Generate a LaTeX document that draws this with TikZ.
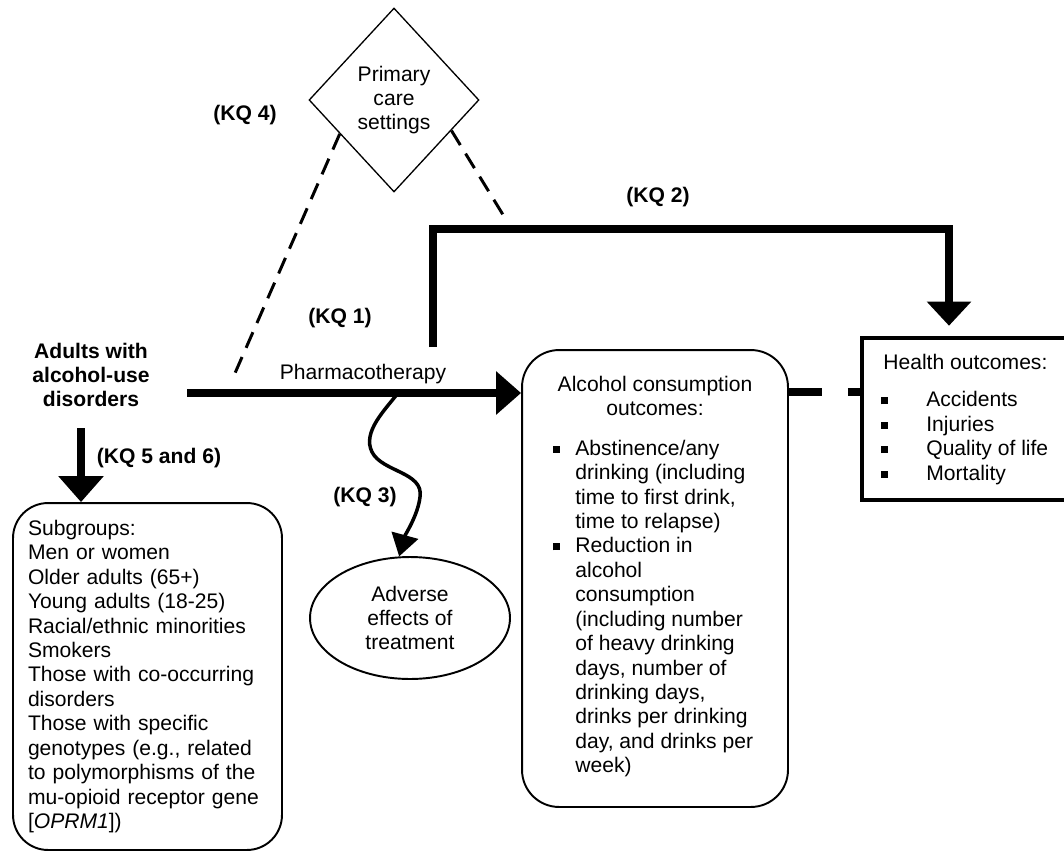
\documentclass[tikz,border=0pt]{standalone}
\usepackage{fontspec}
\setmainfont{Liberation Sans}
\usetikzlibrary{shapes.geometric,arrows.meta}

% small square bullet hanging left of the line
\newcommand{\sqbul}[1][9pt]{\llap{\rule[1.4pt]{4pt}{4pt}\hspace{#1}}}

\tikzset{
  txt/.style      = {inner sep=0pt, align=center, font=\fontsize{12}{13.9}\selectfont},
  kqlabel/.style  = {txt, font=\fontsize{12}{13.9}\selectfont\bfseries},
  rbox/.style     = {txt, draw, line width=1.1pt, rounded corners=0.74cm},
  hbox/.style     = {draw, line width=2.6pt, minimum width=4.16cm, minimum height=3.24cm},
  pcdiamond/.style= {txt, draw, diamond, line width=0.75pt,
                     minimum width=3.4cm, minimum height=3.68cm},
  advellipse/.style = {txt, draw, ellipse, line width=1.1pt,
                     minimum width=4cm, minimum height=2.44cm},
  flow/.style     = {line width=4.5pt},
  kqdash/.style   = {line width=1.7pt, dash pattern=on 9.7pt off 5.7pt},
  dlink/.style    = {line width=4.5pt, dash pattern=on 18.8pt off 14.8pt},
}

\begin{document}
\begin{tikzpicture}[x=0.02cm, y=-0.02cm]
  \clip (0,0) rectangle (1064,855);

  \node[pcdiamond] (pcs) at (394,100) {Primary\\care\\settings};

  \node[kqlabel] (adults) at (91,375) {Adults with\\alcohol-use\\disorders};

  \node[rbox, minimum width=5.38cm, minimum height=6.94cm, text width=4.78cm,
        align=left, rounded corners=0.7cm] (sub) at (147.5,676.5)
    {Subgroups:\\Men or women\\Older adults (65+)\\Young adults (18-25)\\
     Racial/ethnic minorities\\Smokers\\Those with co-occurring\\disorders\\
     Those with specific\\genotypes (e.g., related\\to polymorphisms of the\\
     mu-opioid receptor gene\\{[}\textit{OPRM1}{]})};

  \node[advellipse] (adv) at (410,618) {Adverse\\effects of\\treatment};

  % alcohol consumption box, header and list
  \node[rbox, minimum width=5.32cm, minimum height=9.14cm] (alc) at (655,578.5) {};
  \node[txt] (alchead) at (655,396) {Alcohol consumption\\outcomes:};
  \node[txt, anchor=west, align=left] (alclist) at (575,608.5)
    {\sqbul Abstinence/any\\drinking (including\\time to first drink,\\time to relapse)\\
     \sqbul Reduction in\\alcohol\\consumption\\(including number\\of heavy drinking\\
     days, number of\\drinking days,\\drinks per drinking\\day, and drinks per\\week)};

  % health outcomes box (runs past the right edge)
  \node[hbox] (health) at (966,419) {};
  \node[txt, anchor=west] (hhead) at (883,362) {Health outcomes:};
  \node[txt, anchor=west, align=left] (hlist) at (926,438)
    {\sqbul[22pt]Accidents\\\sqbul[22pt]Injuries\\\sqbul[22pt]Quality of life\\\sqbul[22pt]Mortality};

  \node[txt] (pharm) at (363,374) {Pharmacotherapy};
  \node[kqlabel] (kq1) at (340,318) {(KQ 1)};
  \node[kqlabel] (kq2) at (658,197) {(KQ 2)};
  \node[kqlabel] (kq3) at (365,497) {(KQ 3)};
  \node[kqlabel] (kq4) at (245,115) {(KQ 4)};
  \node[kqlabel] (kq56) at (159,458) {(KQ 5 and 6)};

  \coordinate (flowstart) at (187,393);
  \coordinate (kq56start) at (81,428);
  \coordinate (kq2start) at (433,347);
  \coordinate (kq2top) at (949,229);
  \coordinate (kq3start) at (398,393);
  \coordinate (hlink) at (0,392);
  \coordinate (dashl) at (232,380);
  \coordinate (dashr) at (505,218);

  \draw[flow, -{Triangle[length=14.2pt,width=23.9pt]}] (flowstart) -- (flowstart -| alc.west);
  \draw[flow, -{Triangle[length=14.8pt,width=25pt]}] (kq56start) -- (kq56start |- sub.north);
  \draw[flow, -{Triangle[length=13.7pt,width=24.5pt]}, shorten >=5.7pt]
    (kq2start) |- (kq2top) -- (kq2top |- health.north);
  \draw[line width=2pt, -{Triangle[length=12.5pt,width=15.4pt]}]
    (kq3start) .. controls (385,410) and (362,432) .. (372,452)
    .. controls (382,472) and (424,472) .. (420,497)
    .. controls (418,515) and (405,535) .. (adv.100);
  \draw[dlink] (alc.east |- hlink) -- (health.west |- hlink);
  \draw[kqdash] (pcs.212) -- (dashl);
  \draw[kqdash] (pcs.-28) -- (dashr);
\end{tikzpicture}
\end{document}
